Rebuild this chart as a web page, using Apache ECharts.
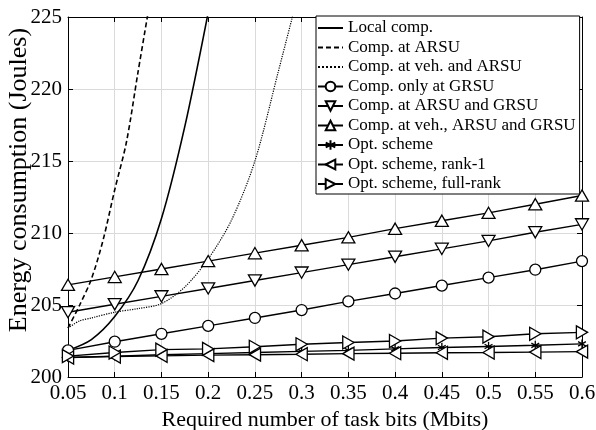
<!DOCTYPE html>
<html>
<head>
<meta charset="utf-8">
<script src="https://cdn.jsdelivr.net/npm/echarts@6/dist/echarts.min.js"></script>
<style>
html,body{margin:0;padding:0;background:#fff;}
#c{width:596px;height:430px;}
</style>
</head>
<body>
<div id="c"></div>
<script>
// ---- data ----
const xs = [0.05, 0.1, 0.15, 0.2, 0.25, 0.3, 0.35, 0.4, 0.45, 0.5, 0.55, 0.6];
const xTickLabels = ['0.05','0.1','0.15','0.2','0.25','0.3','0.35','0.4','0.45','0.5','0.55','0.6'];
const yTickLabels = ['200','205','210','215','220','225'];

const localX = [0.05, 0.075, 0.1, 0.125, 0.15, 0.175, 0.2];
const localY = [201.85, 202.6, 204.2, 206.7, 211.0, 217.4, 225.3];

const arsuX = [0.05, 0.0625, 0.075, 0.0875, 0.1, 0.1125, 0.125, 0.1375];
const arsuY = [203.4, 205.0, 206.8, 209.5, 213.0, 216.3, 221.2, 226.0];

const vehArsuX = [0.05, 0.0625, 0.075, 0.1, 0.125, 0.15, 0.175, 0.2, 0.225, 0.25, 0.275, 0.3];
const vehArsuY = [203.4, 203.9, 204.1, 204.5, 204.75, 205.1, 206.25, 208.2, 210.9, 215.0, 221.2, 227.5];

const grsuOnly   = [201.85, 202.45, 203.0, 203.55, 204.1, 204.65, 205.25, 205.8, 206.35, 206.9, 207.45, 208.05];
const arsuGrsu   = [204.5, 205.05, 205.6, 206.15, 206.7, 207.25, 207.8, 208.35, 208.9, 209.45, 210.05, 210.6];
const vehArsuGrsu= [206.4, 206.95, 207.5, 208.05, 208.6, 209.15, 209.7, 210.3, 210.85, 211.4, 212.0, 212.6];
const optScheme  = [201.35, 201.45, 201.55, 201.62, 201.7, 201.78, 201.85, 201.95, 202.05, 202.12, 202.2, 202.3];
const optRank1   = [201.35, 201.42, 201.47, 201.52, 201.55, 201.58, 201.62, 201.65, 201.68, 201.7, 201.73, 201.76];
const optFull    = [201.45, 201.7, 201.9, 201.95, 202.1, 202.27, 202.4, 202.5, 202.7, 202.8, 203.0, 203.1];

const names = ['Local comp.', 'Comp. at ARSU', 'Comp. at veh. and ARSU', 'Comp. only at GRSU',
  'Comp. at ARSU and GRSU', 'Comp. at veh., ARSU and GRSU', 'Opt. scheme', 'Opt. scheme, rank-1',
  'Opt. scheme, full-rank'];

// ---- build ----
const FONT = "'Liberation Serif', 'Times New Roman', serif";
const zip = (a, b) => a.map((v, i) => [v, b[i]]);
const CLEAR = 'rgba(0,0,0,0)';

const SYM = {
  circle: 'circle',
  up: 'path://M1,0 L2,1.73 L0,1.73 Z',
  down: 'path://M0,0 L2,0 L1,1.73 Z',
  left: 'path://M0,1 L1.73,0 L1.73,2 Z',
  right: 'path://M0,0 L1.73,1 L0,2 Z',
  star: 'path://M1,0 L1,2 M0.13,0.5 L1.87,1.5 M0.13,1.5 L1.87,0.5'
};

function curve(name, xArr, yArr, type) {
  return {
    name, type: 'line', data: zip(xArr, yArr), showSymbol: false, symbol: 'none',
    smooth: 0.3, clip: true,
    color: '#000',
    lineStyle: { color: '#000', width: type === 'dotted' ? 1.2 : 1.6, type },
    itemStyle: { color: CLEAR, borderColor: CLEAR, borderWidth: 0 },
    z: 2
  };
}
function marked(name, yArr, sym, size) {
  return {
    name, type: 'line', data: zip(xs, yArr), symbol: SYM[sym], symbolSize: size,
    symbolKeepAspect: true, showSymbol: true, clip: true, color: '#000',
    lineStyle: { color: '#000', width: 1.4 },
    itemStyle: { color: sym === 'star' ? CLEAR : '#fff', borderColor: '#000', borderWidth: 1.3 },
    z: 3
  };
}

const series = [
  curve(names[0], localX, localY, 'solid'),
  curve(names[1], arsuX, arsuY, [5, 3]),
  curve(names[2], vehArsuX, vehArsuY, 'dotted'),
  marked(names[3], grsuOnly, 'circle', 11),
  marked(names[4], arsuGrsu, 'down', 13),
  marked(names[5], vehArsuGrsu, 'up', 13),
  marked(names[6], optScheme, 'star', 9),
  marked(names[7], optRank1, 'left', 13),
  marked(names[8], optFull, 'right', 13)
];

const legendData = names.map((n, i) => i < 3
  ? { name: n, itemStyle: { color: CLEAR, borderColor: CLEAR, borderWidth: 0, opacity: 0 } }
  : { name: n });

const chart = echarts.init(document.getElementById('c'), null, { renderer: 'canvas' });
chart.setOption({
  animation: false,
  backgroundColor: '#fff',
  grid: { left: 68, right: 14, top: 17, bottom: 53, containLabel: false, outerBoundsMode: 'none' },
  legend: {
    data: legendData, orient: 'vertical', left: 316, top: 16,
    backgroundColor: '#fff', borderColor: '#000', borderWidth: 1,
    padding: [3, 4, 1, 1], itemGap: 1.5, itemWidth: 25, itemHeight: 12,
    textStyle: { fontFamily: FONT, fontSize: 17, color: '#000', lineHeight: 18 },
    z: 10
  },
  xAxis: [{
    type: 'value', min: 0.05, max: 0.6, interval: 0.05,
    name: 'Required number of task bits (Mbits)', nameLocation: 'middle', nameGap: 30,
    nameTextStyle: { fontFamily: FONT, fontSize: 22, color: '#000' },
    axisLine: { lineStyle: { color: '#000', width: 1 } },
    axisTick: { inside: true, length: 5, lineStyle: { color: '#000' } },
    axisLabel: { fontFamily: FONT, fontSize: 21, color: '#000', margin: 6,
      formatter: v => xTickLabels[Math.round((v - 0.05) / 0.05)] },
    splitLine: { show: true, lineStyle: { color: '#dadada', width: 1 } }
  }, {
    type: 'value', min: 0.05, max: 0.6, interval: 0.05, position: 'top',
    axisLine: { show: true, lineStyle: { color: '#000', width: 1 } },
    axisTick: { inside: true, length: 5, lineStyle: { color: '#000' } },
    axisLabel: { show: false }, splitLine: { show: false }
  }],
  yAxis: [{
    type: 'value', min: 200, max: 225, interval: 5,
    name: 'Energy consumption (Joules)', nameLocation: 'middle', nameGap: 36,
    nameMoveOverlap: false,
    nameTextStyle: { fontFamily: FONT, fontSize: 26, color: '#000', padding: [0, 0, 0, 34] },
    axisLine: { show: true, lineStyle: { color: '#000', width: 1 } },
    axisTick: { show: true, inside: true, length: 5, lineStyle: { color: '#000' } },
    axisLabel: { fontFamily: FONT, fontSize: 21, color: '#000', margin: 6,
      formatter: v => yTickLabels[Math.round((v - 200) / 5)] },
    splitLine: { show: true, lineStyle: { color: '#dadada', width: 1 } }
  }, {
    type: 'value', min: 200, max: 225, interval: 5, position: 'right',
    axisLine: { show: true, lineStyle: { color: '#000', width: 1 } },
    axisTick: { show: true, inside: true, length: 5, lineStyle: { color: '#000' } },
    axisLabel: { show: false }, splitLine: { show: false }
  }],
  series
});
</script>
</body>
</html>
